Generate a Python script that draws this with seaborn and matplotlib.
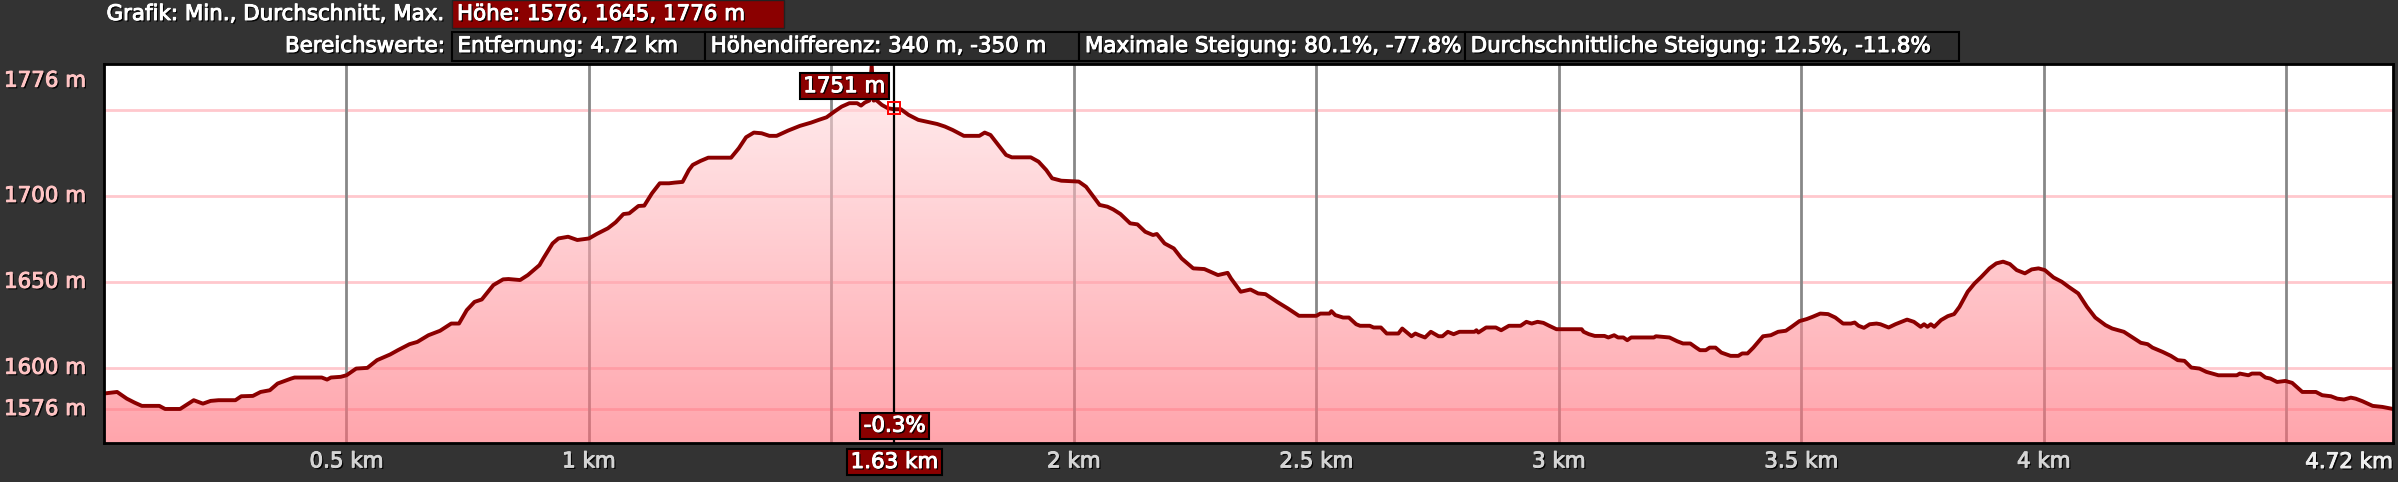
"""
Elevation profile (Höhenprofil) with cursor readout, drawn with seaborn
"""
import matplotlib
matplotlib.use('Agg')
import matplotlib.pyplot as plt
import matplotlib.patheffects as pe
import matplotlib.transforms as mtransforms
from matplotlib.colors import LinearSegmentedColormap
from matplotlib.patches import PathPatch, Rectangle
import numpy as np
import seaborn as sns

# profile: distance (km) / elevation (m)
dist_km = [0.000, 0.027, 0.047, 0.063, 0.078, 0.114, 0.126, 0.157, 0.185, 0.204,
           0.220, 0.236, 0.271, 0.283, 0.307, 0.323, 0.342, 0.358, 0.386, 0.393,
           0.449, 0.460, 0.468, 0.488, 0.500, 0.520, 0.543, 0.563, 0.590, 0.606,
           0.630, 0.646, 0.669, 0.693, 0.716, 0.732, 0.748, 0.764, 0.779, 0.803,
           0.823, 0.834, 0.858, 0.874, 0.898, 0.906, 0.925, 0.937, 0.957, 0.976,
           1.000, 1.016, 1.039, 1.055, 1.071, 1.083, 1.102, 1.114, 1.130, 1.146,
           1.165, 1.177, 1.193, 1.206, 1.214, 1.230, 1.246, 1.293, 1.309, 1.324,
           1.340, 1.356, 1.372, 1.387, 1.411, 1.435, 1.458, 1.474, 1.490, 1.506,
           1.521, 1.537, 1.553, 1.561, 1.569, 1.578, 1.583, 1.587, 1.592, 1.604,
           1.616, 1.628, 1.643, 1.659, 1.679, 1.695, 1.718, 1.734, 1.750, 1.773,
           1.805, 1.816, 1.828, 1.844, 1.860, 1.872, 1.911, 1.927, 1.943, 1.955,
           1.974, 2.010, 2.025, 2.053, 2.069, 2.081, 2.096, 2.116, 2.131, 2.147,
           2.163, 2.171, 2.187, 2.206, 2.222, 2.246, 2.269, 2.297, 2.317, 2.324,
           2.344, 2.364, 2.380, 2.395, 2.419, 2.441, 2.464, 2.500, 2.508, 2.527,
           2.531, 2.539, 2.555, 2.567, 2.582, 2.590, 2.610, 2.618, 2.633, 2.645,
           2.669, 2.677, 2.696, 2.704, 2.712, 2.724, 2.736, 2.752, 2.760, 2.771,
           2.783, 2.795, 2.826, 2.830, 2.834, 2.850, 2.870, 2.881, 2.897, 2.921,
           2.933, 2.944, 2.956, 2.968, 2.980, 2.995, 3.047, 3.051, 3.062, 3.074,
           3.094, 3.102, 3.114, 3.122, 3.133, 3.141, 3.149, 3.196, 3.200, 3.228,
           3.244, 3.256, 3.271, 3.283, 3.291, 3.303, 3.311, 3.323, 3.335, 3.354,
           3.370, 3.378, 3.389, 3.401, 3.421, 3.437, 3.452, 3.468, 3.480, 3.496,
           3.511, 3.523, 3.539, 3.555, 3.570, 3.586, 3.602, 3.610, 3.618, 3.629,
           3.641, 3.655, 3.663, 3.680, 3.694, 3.718, 3.732, 3.746, 3.753, 3.760,
           3.767, 3.774, 3.788, 3.802, 3.815, 3.826, 3.843, 3.857, 3.871, 3.888,
           3.902, 3.916, 3.930, 3.944, 3.961, 3.975, 3.989, 4.002, 4.020, 4.037,
           4.051, 4.071, 4.089, 4.106, 4.127, 4.141, 4.165, 4.183, 4.200, 4.214,
           4.224, 4.245, 4.262, 4.276, 4.290, 4.304, 4.321, 4.335, 4.360, 4.398,
           4.404, 4.422, 4.429, 4.446, 4.457, 4.467, 4.481, 4.498, 4.512, 4.533,
           4.561, 4.574, 4.592, 4.605, 4.619, 4.633, 4.643, 4.657, 4.678, 4.698,
           4.720]
elev_m = [1585.0, 1585.9, 1582.0, 1579.7, 1577.8, 1577.8, 1576.0, 1576.0, 1581.1, 1579.1,
          1580.7, 1581.1, 1581.1, 1583.4, 1583.6, 1585.9, 1586.9, 1590.8, 1593.7, 1594.3,
          1594.3, 1593.1, 1594.3, 1594.7, 1595.6, 1599.5, 1599.9, 1604.4, 1607.7, 1610.2,
          1613.7, 1615.0, 1618.9, 1621.5, 1625.7, 1625.7, 1633.5, 1638.3, 1639.7, 1648.1,
          1651.4, 1651.6, 1651.0, 1653.9, 1659.7, 1663.6, 1672.3, 1675.2, 1676.2, 1674.3,
          1675.2, 1677.8, 1681.1, 1684.6, 1689.4, 1689.8, 1694.1, 1694.3, 1701.5, 1707.3,
          1707.3, 1707.7, 1708.1, 1715.0, 1718.0, 1720.3, 1722.2, 1722.2, 1727.7, 1734.1,
          1736.8, 1736.4, 1734.9, 1734.9, 1738.0, 1740.7, 1742.6, 1744.2, 1745.7, 1749.0,
          1751.9, 1753.9, 1753.9, 1752.5, 1754.3, 1755.4, 1776.0, 1755.4, 1755.8, 1752.9,
          1751.0, 1750.4, 1750.4, 1747.1, 1744.2, 1743.2, 1741.8, 1740.3, 1738.3, 1734.9,
          1734.9, 1736.8, 1735.4, 1729.6, 1723.8, 1722.4, 1722.4, 1719.9, 1715.0, 1710.2,
          1708.8, 1708.3, 1705.3, 1694.7, 1693.7, 1692.1, 1689.4, 1684.0, 1683.4, 1679.1,
          1677.2, 1677.8, 1672.3, 1669.4, 1663.6, 1657.8, 1657.4, 1653.9, 1655.2, 1651.9,
          1644.2, 1645.5, 1643.2, 1642.8, 1638.3, 1634.5, 1630.2, 1630.2, 1631.5, 1631.5,
          1632.9, 1630.6, 1629.2, 1629.2, 1625.3, 1624.4, 1624.4, 1623.4, 1623.4, 1619.9,
          1619.9, 1622.8, 1618.3, 1619.9, 1618.9, 1617.6, 1620.9, 1618.3, 1618.3, 1620.9,
          1619.5, 1620.9, 1620.9, 1621.8, 1620.5, 1623.4, 1623.4, 1621.8, 1624.4, 1624.4,
          1626.7, 1625.7, 1626.7, 1626.1, 1624.4, 1622.4, 1622.4, 1620.9, 1619.5, 1618.5,
          1618.5, 1617.6, 1618.9, 1617.6, 1617.6, 1616.0, 1617.6, 1617.6, 1618.3, 1617.6,
          1615.4, 1614.1, 1614.1, 1611.7, 1610.2, 1610.2, 1611.7, 1611.7, 1608.8, 1606.9,
          1606.9, 1608.3, 1608.3, 1611.7, 1618.3, 1618.9, 1620.9, 1621.5, 1623.8, 1627.1,
          1628.3, 1629.6, 1631.5, 1631.2, 1629.2, 1625.7, 1625.7, 1626.3, 1624.4, 1623.2,
          1625.3, 1625.7, 1625.3, 1623.4, 1625.3, 1628.0, 1626.7, 1623.8, 1625.3, 1623.8,
          1625.3, 1623.8, 1627.7, 1630.0, 1631.2, 1635.4, 1644.2, 1649.0, 1652.8, 1657.8,
          1660.7, 1661.7, 1660.3, 1656.8, 1654.9, 1657.2, 1657.8, 1656.8, 1652.5, 1650.0,
          1647.1, 1643.2, 1635.4, 1629.2, 1624.8, 1622.8, 1620.9, 1617.6, 1614.5, 1613.7,
          1611.7, 1609.2, 1606.9, 1604.4, 1604.0, 1600.1, 1599.5, 1597.6, 1595.6, 1595.6,
          1596.6, 1595.6, 1596.6, 1596.6, 1594.3, 1593.7, 1591.7, 1592.3, 1591.2, 1585.9,
          1585.9, 1584.0, 1583.4, 1582.0, 1581.5, 1582.6, 1582.0, 1580.5, 1577.8, 1577.2,
          1576.0]

# axis ticks / labels
y_grid = [1576, 1600, 1650, 1700, 1750]
y_labels = ['1576 m', '1600 m', '1650 m', '1700 m']
y_max_label = '1776 m'
x_grid = [0.5, 1, 1.5, 2, 2.5, 3, 3.5, 4, 4.5]
x_labels = ['0.5 km', '1 km', '', '2 km', '2.5 km', '3 km', '3.5 km', '4 km', '']
x_end = 4.72
x_end_label = '4.72 km'

# cursor readout
cursor_km = 1.63
cursor_elev = 1751
cursor_grade = '-0.3%'

# header
row1_title = 'Grafik: Min., Durchschnitt, Max.'
row1_value = 'Höhe: 1576, 1645, 1776 m'
row2_title = 'Bereichswerte:'
row2_values = ['Entfernung: 4.72 km', 'Höhendifferenz: 340 m, -350 m',
               'Maximale Steigung: 80.1%, -77.8%',
               'Durchschnittliche Steigung: 12.5%, -11.8%']
row2_edges = [451.5, 704.7, 1078.9, 1464.7, 1959.3]

W, H = 2398, 482
FS = 15.4
BG = '#333333'
DARKRED = '#8b0000'


def fx(px):
    return px / W


def fy(px):
    return 1 - px / H


def text_fx(color):
    # dark drop shadow plus a thin stroke so the glyphs look a bit heavier
    return [pe.withSimplePatchShadow(offset=(1.2, -1.2), shadow_rgbFace='black', alpha=0.9),
            pe.Stroke(linewidth=0.7, foreground=color), pe.Normal()]


sns.set_style('white')
plt.rcParams['font.family'] = ['DejaVu Sans']

fig = plt.figure(figsize=(W / 100, H / 100), dpi=100, facecolor=BG)
ax = fig.add_axes([fx(104), fy(443), (2393 - 104) / W, (443 - 64) / H])
ax.set_facecolor('white')
y_lo, y_hi = 1556.2, 1776.7

# gridlines underneath the semi-transparent fill
for g in y_grid:
    ax.axhline(g, color='#ffc8cd', lw=2, zorder=1)
for g in x_grid:
    ax.axvline(g, color='#888888', lw=2, zorder=1)

# gradient fill under the profile
poly = ax.fill_between(dist_km, elev_m, y_lo, facecolor='none', edgecolor='none')
cmap = LinearSegmentedColormap.from_list('profile', ['#ff6975', '#ffe6e8'])
grad = np.linspace(0, 1, 256).reshape(-1, 1)
im = ax.imshow(grad, extent=[0, x_end, y_lo, y_hi], origin='lower', aspect='auto',
               cmap=cmap, alpha=0.6, zorder=2)
clip = PathPatch(poly.get_paths()[0], transform=ax.transData, facecolor='none', edgecolor='none')
ax.add_patch(clip)
im.set_clip_path(clip)

sns.lineplot(x=dist_km, y=elev_m, color=DARKRED, lw=2.8, estimator=None, ax=ax, zorder=4)

ax.set_xlim(0, x_end)
ax.set_ylim(y_lo, y_hi)
ax.set_xticks(x_grid)
ax.set_xticklabels(x_labels)
ax.set_yticks(y_grid)
ax.set_yticklabels([])
ax.set_xlabel('')
ax.set_ylabel('')
ax.tick_params(length=0)
ax.tick_params(axis='x', pad=6, labelsize=FS, labelcolor='#d4d4d4')
for lab in ax.get_xticklabels():
    lab.set_path_effects(text_fx('#d4d4d4'))
for sp in ax.spines.values():
    sp.set_visible(True)
    sp.set_color('black')
    sp.set_linewidth(2)
    sp.set_zorder(7)

# right end label
ax.text(1.0, -0.0501, x_end_label, transform=ax.transAxes, ha='right', va='center',
        fontsize=FS, color='#eeeeee', path_effects=text_fx('#eeeeee'))

# y labels at the far left
ylab_tr = mtransforms.blended_transform_factory(fig.transFigure, ax.transData)
for val, lab in zip(y_grid[:4], y_labels):
    ax.text(fx(4), val, lab, transform=ylab_tr, ha='left', va='center',
            fontsize=FS, color='#ffc4c4', path_effects=text_fx('#ffc4c4'), clip_on=False)
ax.text(fx(4), 1767, y_max_label, transform=ylab_tr, ha='left', va='center',
        fontsize=FS, color='#ffc4c4', path_effects=text_fx('#ffc4c4'), clip_on=False)

# cursor
ax.axvline(cursor_km, color='black', lw=1.6, zorder=5)
ax.plot([cursor_km], [cursor_elev], marker='s', ms=9, mfc='none', mec='red', mew=1.4, zorder=6)
box = dict(boxstyle='square,pad=0.15', fc=DARKRED, ec='black', lw=1.5)
ax.annotate(f'{cursor_elev} m', xy=(cursor_km, cursor_elev), xytext=(-9, 22),
            textcoords='offset pixels', ha='right', va='center', fontsize=FS,
            color='white', bbox=box, zorder=8, path_effects=text_fx('white'))
cur_tr = mtransforms.blended_transform_factory(ax.transData, ax.transAxes)
ax.text(cursor_km, 0.0456, cursor_grade, transform=cur_tr, ha='center', va='center',
        fontsize=FS, color='white', bbox=box, zorder=8, path_effects=text_fx('white'))
ax.text(cursor_km, -0.0501, f'{cursor_km:.2f} km', transform=cur_tr, ha='center', va='center',
        fontsize=FS, color='white', bbox=box, zorder=8, path_effects=text_fx('white'),
        clip_on=False)

# header rows
fig.text(fx(444.5), fy(14), row1_title, ha='right', va='center', fontsize=FS,
         color='white', path_effects=text_fx('white'))
fig.add_artist(Rectangle((fx(451.5), fy(28.3)), (784.4 - 451.5) / W, 28.3 / H,
                         transform=fig.transFigure, fc=DARKRED, ec='#222222', lw=1))
fig.text(fx(457), fy(14), row1_value, ha='left', va='center', fontsize=FS,
         color='white', path_effects=text_fx('white'))

fig.text(fx(444.5), fy(46), row2_title, ha='right', va='center', fontsize=FS,
         color='white', path_effects=text_fx('white'))
for left, right, txt in zip(row2_edges[:-1], row2_edges[1:], row2_values):
    fig.add_artist(Rectangle((fx(left), fy(60.7)), (right - left) / W, 29 / H,
                             transform=fig.transFigure, fc='#2e2e2e', ec='black', lw=1.5))
    fig.text(fx(left + 6), fy(46), txt, ha='left', va='center', fontsize=FS,
             color='white', path_effects=text_fx('white'))

fig.savefig('out.png', dpi=100, facecolor=BG)
